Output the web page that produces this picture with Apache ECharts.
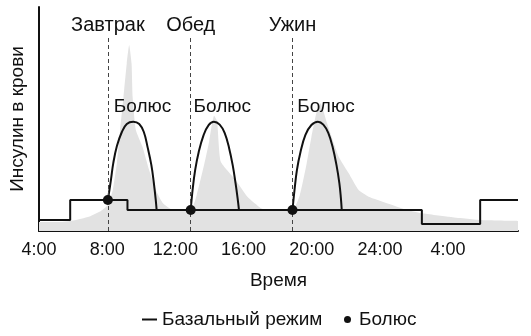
<!DOCTYPE html>
<html><head><meta charset="utf-8">
<script src="https://cdn.jsdelivr.net/npm/echarts@6/dist/echarts.min.js"></script>
<style>html,body{margin:0;padding:0;background:#fff}#c{width:531px;height:336px}</style>
</head><body><div id="c"></div>
<script>
// ---- data (hours since midnight of day 1, insulin level in relative units) ----
const tickHours = [4, 8, 12, 16, 20, 24, 28];
const tickLabels = ['4:00', '8:00', '12:00', '16:00', '20:00', '24:00', '4:00'];
const meals = ['Завтрак', 'Обед', 'Ужин'];
const mealTimes = [8.04, 12.9, 18.87];
const bolusDots = [[8.04, 13.8], [12.9, 9.4], [18.87, 9.4]];
const bolusLabelPos = [[8.39, 55.4], [13.07, 55.4], [19.15, 55.4]];
const basal = [[4, 4.9], [5.83, 13.8], [9.19, 9.4], [26.46, 3.1], [29.88, 13.8], [32.1, 13.8]];
const bolusBreakfast = [[8.04,13.8],[8.22,22.8],[8.36,30.4],[8.57,37.9],[8.86,44.2],[9.15,47.8],[9.53,48.8],[9.88,47.8],[10.15,44.2],[10.38,37.1],[10.59,29.5],[10.73,21.9],[10.85,13.8],[10.90,9.4]];
const bolusLunch = [[12.90,9.4],[13.01,18.3],[13.16,27.2],[13.37,35.3],[13.66,42.9],[13.95,47.3],[14.26,48.8],[14.60,47.5],[14.89,43.8],[15.15,37.1],[15.36,29.5],[15.53,21.4],[15.65,14.7],[15.73,9.4]];
const bolusDinner = [[18.87,9.4],[18.99,18.3],[19.13,27.2],[19.34,35.3],[19.63,42.9],[19.98,47.3],[20.36,48.8],[20.68,47.5],[20.97,43.8],[21.24,37.1],[21.45,29.5],[21.62,21.4],[21.71,14.7],[21.76,9.4]];
const physiological = [[4.0,4.0],[5.29,4.0],[6.17,4.9],[7.04,6.7],[7.63,8.9],[8.04,11.6],[8.33,18.3],[8.57,30.4],[8.76,45.1],[8.96,60.0],[9.15,75.0],[9.29,83.0],[9.43,74.9],[9.49,60.0],[9.68,45.1],[10.07,37.6],[10.46,27.2],[10.85,18.3],[11.26,12.5],[11.85,9.4],[12.9,9.4],[13.25,16.0],[13.7,30.0],[13.98,40.0],[14.15,48.0],[14.27,51.5],[14.45,49.0],[14.66,31.0],[15.53,22.8],[16.24,15.2],[17.0,10.3],[17.29,9.4],[18.87,9.4],[19.3,16.0],[19.7,30.0],[19.98,42.0],[20.25,52.0],[20.51,57.0],[20.9,48.1],[21.58,33.2],[22.17,25.8],[22.75,18.3],[23.34,15.3],[24.41,12.4],[25.59,9.4],[26.47,7.9],[28.12,6.25],[29.88,4.9],[32.1,4.5]];
const mealLineTop = 87.5;

const FONT = 'Liberation Sans, Arial, sans-serif';
const ink = '#111';
const chart = echarts.init(document.getElementById('c'), null, {renderer: 'canvas'});
chart.setOption({
  animation: false,
  textStyle: {fontFamily: FONT, color: ink},
  grid: {left: 38, top: 7, right: 13, bottom: 105, containLabel: false},
  legend: [
    {
      top: 305, left: 137, itemWidth: 15, itemHeight: 2, icon: 'rect',
      textStyle: {fontFamily: FONT, fontSize: 19, color: ink, padding: [0, 0, 0, 0]},
      data: ['Базальный режим']
    },
    {
      top: 305, left: 339, itemWidth: 7, itemHeight: 7, icon: 'circle',
      textStyle: {fontFamily: FONT, fontSize: 19, color: ink, padding: [0, 0, 0, 3]},
      data: ['Болюс']
    }
  ],
  xAxis: {
    type: 'value', min: 4, max: 32.1, interval: 4,
    name: 'Время', nameLocation: 'middle', nameGap: 40,
    nameTextStyle: {fontFamily: FONT, fontSize: 19, color: ink},
    axisLine: {lineStyle: {color: ink, width: 2}},
    axisTick: {show: false}, splitLine: {show: false},
    axisLabel: {margin: 10, fontFamily: FONT, fontSize: 18, color: ink,
      formatter: v => { const i = tickHours.indexOf(v); return i >= 0 ? tickLabels[i] : ''; }}
  },
  yAxis: {
    type: 'value', min: 0, max: 100,
    name: 'Инсулин в крови', nameLocation: 'middle', nameRotate: 90, nameGap: 12,
    nameTextStyle: {fontFamily: FONT, fontSize: 19, color: ink},
    axisLine: {show: true, lineStyle: {color: ink, width: 2}},
    axisTick: {show: false}, axisLabel: {show: false}, splitLine: {show: false}
  },
  series: [
    {
      type: 'line', name: 'physio', data: physiological, symbol: 'none', smooth: 0.15,
      lineStyle: {width: 0}, areaStyle: {color: '#e2e2e2', opacity: 1}, z: 1, silent: true,
      markLine: {
        silent: true, symbol: ['none', 'none'],
        lineStyle: {type: [4, 3], color: '#444', width: 1},
        label: {show: true, position: 'end', formatter: '{b}', fontFamily: FONT, fontSize: 20, color: ink, distance: 0},
        data: mealTimes.map((t, i) => [{coord: [t, 0], name: meals[i]}, {coord: [t, mealLineTop]}])
      }
    },
    {type: 'line', name: 'b1', data: bolusBreakfast, symbol: 'none', smooth: 0.4, lineStyle: {color: ink, width: 2}, z: 3},
    {type: 'line', name: 'b2', data: bolusLunch, symbol: 'none', smooth: 0.4, lineStyle: {color: ink, width: 2}, z: 3},
    {type: 'line', name: 'b3', data: bolusDinner, symbol: 'none', smooth: 0.4, lineStyle: {color: ink, width: 2}, z: 3},
    {type: 'line', name: 'Базальный режим', data: basal, step: 'end', symbol: 'none',
      lineStyle: {color: ink, width: 2}, itemStyle: {color: ink}, z: 4},
    {type: 'scatter', name: 'Болюс', data: bolusDots, symbol: 'circle', symbolSize: 10,
      itemStyle: {color: ink, opacity: 1}, z: 5},
    {type: 'scatter', name: 'bolusLabels', data: bolusLabelPos, symbolSize: 0, silent: true,
      itemStyle: {opacity: 1},
      label: {show: true, position: 'right', distance: 0, formatter: 'Болюс', fontFamily: FONT, fontSize: 19, color: ink}, z: 6}
  ]
});
</script></body></html>
